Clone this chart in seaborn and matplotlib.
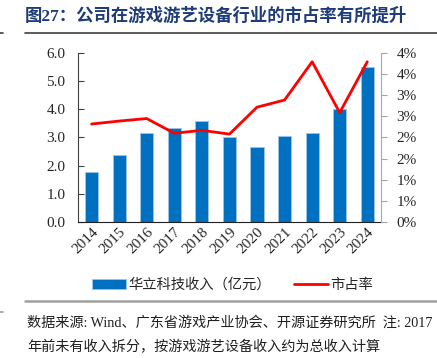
import numpy as np
import pandas as pd
import matplotlib
matplotlib.use("Agg")
import matplotlib.pyplot as plt
from matplotlib.lines import Line2D
from matplotlib.patches import Patch
import seaborn as sns

# 数据
years = ["2014", "2015", "2016", "2017", "2018", "2019", "2020", "2021", "2022", "2023", "2024"]
revenue = [1.78, 2.37, 3.17, 3.33, 3.59, 3.02, 2.67, 3.06, 3.16, 4.00, 5.52]   # 亿元
share = [2.32, 2.39, 2.45, 2.10, 2.17, 2.08, 2.72, 2.89, 3.80, 2.59, 3.80]     # %
left_ticks = [0, 1, 2, 3, 4, 5, 6]
right_ticks = [0, 0.5, 1, 1.5, 2, 2.5, 3, 3.5, 4]
right_labels = ["0%", "1%", "1%", "2%", "2%", "3%", "3%", "4%", "4%"]

title = "图27：公司在游戏游艺设备行业的市占率有所提升"
bar_name = "华立科技收入（亿元）"
line_name = "市占率"
note1 = "数据来源: Wind、广东省游戏产业协会、开源证券研究所  注: 2017"
note2 = "年前未有收入拆分，按游戏游艺设备收入约为总收入计算"

df = pd.DataFrame({"year": years, "revenue": revenue, "share": share})

sns.set_style("white")
plt.rcParams["font.family"] = ["Liberation Serif", "Noto Sans CJK SC"]
plt.rcParams["axes.unicode_minus"] = False

bar_color = "#0070C0"
line_color = "#FF0000"

fig = plt.figure(figsize=(4.37, 3.58), dpi=100)
ax = fig.add_axes([0.178, 0.381, 0.694, 0.470])

sns.barplot(data=df, x="year", y="revenue", color=bar_color, width=0.48,
            edgecolor="#9DC3E6", linewidth=0.6, saturation=1, ax=ax)
ax.set_xlim(-0.5, len(years) - 0.5)
ax.set_ylim(0, 6)
ax.set_yticks(left_ticks)
ax.set_yticklabels([f"{v:.1f}" for v in left_ticks])
ax.set_xlabel("")
ax.set_ylabel("")

ax2 = ax.twinx()
sns.lineplot(data=df, x="year", y="share", color=line_color, linewidth=2.0, ax=ax2)
ax2.set_ylim(0, 4)
ax2.set_yticks(right_ticks)
ax2.set_yticklabels(right_labels)
ax2.set_ylabel("")

# 坐标轴样式
for a in (ax, ax2):
    a.spines["top"].set_visible(False)
ax.spines["left"].set_color("#404040")
ax.spines["bottom"].set_color("#202020")
ax.spines["right"].set_visible(False)
ax2.spines["left"].set_visible(False)
ax2.spines["bottom"].set_visible(False)
ax2.spines["right"].set_color("#A6A6A6")

ax.tick_params(axis="y", direction="in", length=4, width=0.8, color="#404040",
               labelsize=11, pad=9)
ax.tick_params(axis="x", which="major", length=0, labelsize=11, pad=3)
ax.set_xticks(np.arange(-0.5, len(years) + 0.5, 1), minor=True)
ax.tick_params(axis="x", which="minor", direction="in", length=3, color="#404040")
for lbl in ax.get_xticklabels():
    lbl.set_rotation(45)
    lbl.set_ha("right")
    lbl.set_rotation_mode("anchor")
ax2.tick_params(axis="y", direction="out", length=4, width=0.8, color="#A6A6A6",
                labelsize=11, pad=7)

# 标题与分隔线
fig.text(0.057, 0.955, title, fontsize=12.5, fontweight="bold", color="#1F3C78",
         va="center", ha="left")
fig.add_artist(Line2D([0.057, 1.0], [0.908, 0.908], color="#404040", lw=1.2))
fig.add_artist(Line2D([0.0, 0.008], [0.908, 0.908], color="#404040", lw=1.2))

# 图例
handles = [Patch(facecolor=bar_color, edgecolor="#9DC3E6", linewidth=0.6),
           Line2D([0], [0], color=line_color, lw=2)]
fig.legend(handles, [bar_name, line_name], loc="center", bbox_to_anchor=(0.532, 0.204),
           ncol=2, frameon=False, fontsize=10.3, handlelength=2.4, handleheight=0.7,
           columnspacing=1.6, handletextpad=0.15)

# 底部注释
fig.add_artist(Line2D([0.057, 1.0], [0.159, 0.159], color="#A0A0A0", lw=1.8))
fig.add_artist(Line2D([0.0, 0.008], [0.128, 0.128], color="#A0A0A0", lw=1.2))
fig.text(0.062, 0.098, note1, fontsize=10.2, color="#202020", va="center", ha="left")
fig.text(0.062, 0.031, note2, fontsize=10.2, color="#202020", va="center", ha="left")

fig.savefig("out.png", dpi=100)
